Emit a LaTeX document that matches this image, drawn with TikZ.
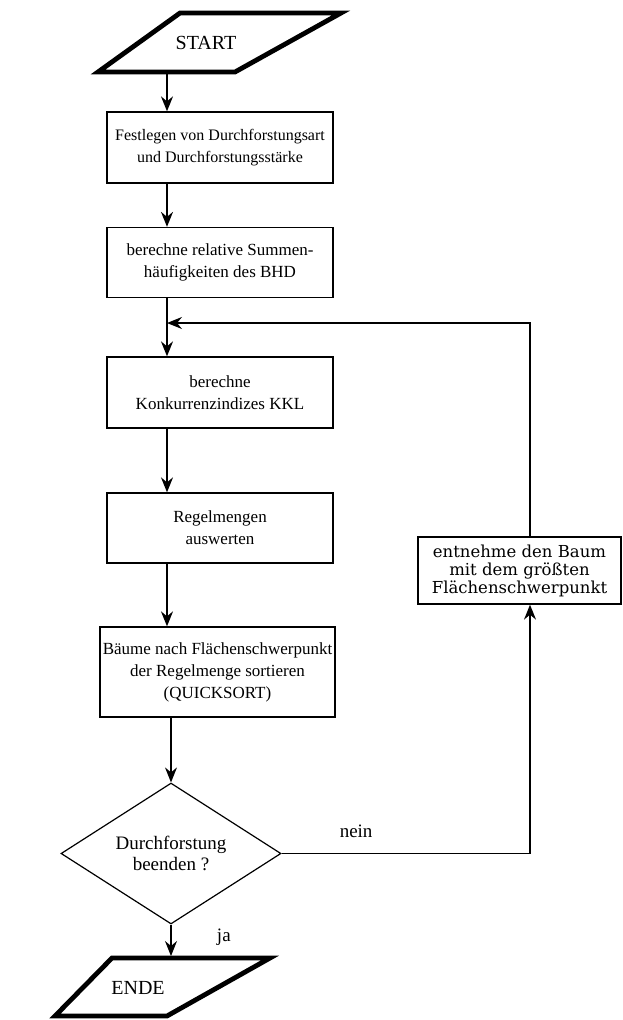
\documentclass[tikz,border=0pt]{standalone}
\usepackage{fontspec}
\setmainfont{Liberation Serif}
\newfontfamily\widefont{DejaVu Serif}
\usetikzlibrary{arrows.meta}
\usetikzlibrary{shapes.geometric}
\usetikzlibrary{positioning}

\begin{document}
\begin{tikzpicture}[
	x=1pt, y=-1pt,
  > = {Stealth[length=15pt,width=12pt,inset=5pt]},
  every node/.style = {font=\fontsize{17}{22}\selectfont},
  box/.style = {draw,line width=1.3pt,align=center,inner sep=0pt},
  io/.style = {line width=4.8pt,line join=miter},
  decision/.style = {draw,diamond,aspect=1.56,line width=1.2pt,align=center,inner sep=0pt,
    font=\fontsize{19}{21}\selectfont},
  flow/.style = {line width=1.3pt},
  tag/.style = {font=\fontsize{19}{21}\selectfont}
  ]
	\useasboundingbox (0,0) rectangle (623,1020);

	\coordinate (colx) at (167,0);
	\coordinate (loopx) at (530,0);
	\coordinate (start out) at (167,74);
	\coordinate (merge) at (167,323);
	\coordinate (ende in) at (171,956);

	% ein- und ausgabe
	\draw[io] (98,72) -- (235,72) -- (341,13) -- (180,13) -- cycle;
	\node[tag,font=\fontsize{20}{22}\selectfont] (start) at (206,43) {START};
	\draw[io] (55,1016) -- (167,1016) -- (270,958) -- (112,958) -- cycle;
	\node[tag,font=\fontsize{20}{22}\selectfont] (ende) at (138,988) {ENDE};

	\node[box,minimum width=226pt,minimum height=71pt,font=\fontsize{16}{22}\selectfont] (festlegen) at (220,147.5)
		{Festlegen von Durchforstungsart\\und Durchforstungsst\"arke};
	\node[box,minimum width=226pt,minimum height=70pt] (summen) at (220,262.5)
		{berechne relative Summen-\\h\"aufigkeiten des BHD};
	\node[box,minimum width=226pt,minimum height=71pt] (kkl) at (220,392.5)
		{berechne\\Konkurrenzindizes KKL};
	\node[box,minimum width=226pt,minimum height=70pt] (regeln) at (220,528)
		{Regelmengen\\auswerten};
	\node[box,minimum width=235pt,minimum height=90pt] (sort) at (217.5,672)
		{B\"aume nach Fl\"achenschwerpunkt\\der Regelmenge sortieren\\(QUICKSORT)};
	\node[decision,minimum width=220pt,minimum height=141pt] (ende frage) at (171,853.5)
		{Durchforstung\\beenden ?};
	\node[box,minimum width=203pt,minimum height=67pt,font=\widefont\fontsize{16.5}{18}\selectfont] (entnehme) at (519.5,570.5)
		{entnehme den Baum\\mit dem gr\"o\ss ten\\Fl\"achenschwerpunkt};

	\draw[flow,->] (start out) -- (festlegen.north -| colx);
	\draw[flow,->] (festlegen.south -| colx) -- (summen.north -| colx);
	\draw[flow,->] (summen.south -| colx) -- (kkl.north -| colx);
	\draw[flow,->] (kkl.south -| colx) -- (regeln.north -| colx);
	\draw[flow,->] (regeln.south -| colx) -- (sort.north -| colx);
	\draw[flow,->] (sort.south -| ende frage) -- (ende frage.north);
	\draw[flow,->] (ende frage.south) -- (ende in) node[tag,pos=0.4,right=42pt] {ja};
	\draw[flow,->] (ende frage.east) -| (entnehme.south -| loopx) node[tag,pos=0.15,above=12pt] {nein};
	\draw[flow,->] (entnehme.north -| loopx) |- (merge);

\end{tikzpicture}
\end{document}
